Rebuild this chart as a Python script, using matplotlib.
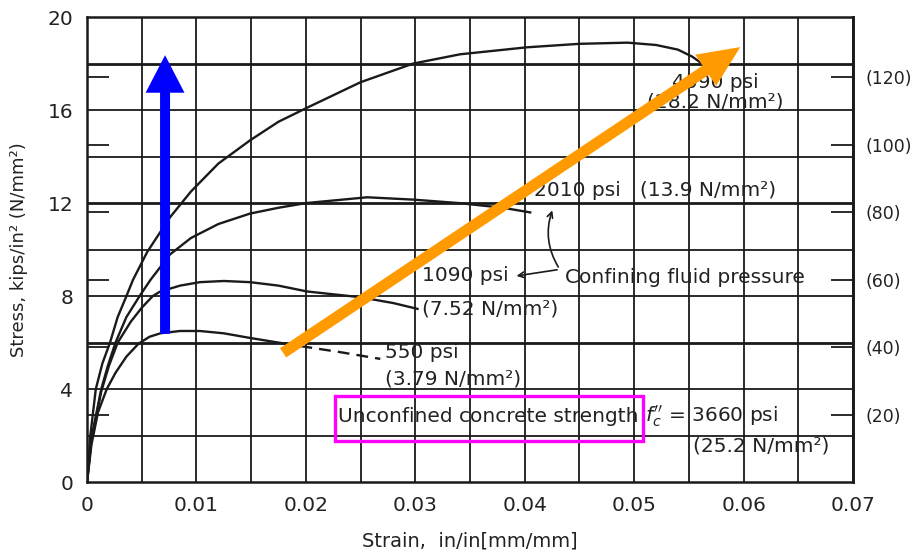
import matplotlib.pyplot as plt
import numpy as np

plt.rcParams['font.family'] = ['DejaVu Sans']

# stress-strain curves (strain in/in, stress ksi)
strain_4090 = [0, 0.0003, 0.0008, 0.0014, 0.0021, 0.0028, 0.0036, 0.0042, 0.0055, 0.0076, 0.0095, 0.0120,
               0.0149, 0.0175, 0.0201, 0.0250, 0.0298, 0.0341, 0.0402, 0.0450, 0.0494, 0.0520, 0.0540, 0.0553, 0.0562]
stress_4090 = [0, 2.0, 4.0, 5.1, 6.0, 7.1, 8.0, 8.7, 9.9, 11.4, 12.5, 13.7,
               14.7, 15.5, 16.1, 17.2, 18.0, 18.4, 18.7, 18.85, 18.9, 18.8, 18.6, 18.3, 18.0]

strain_2010 = [0, 0.0004, 0.0013, 0.0019, 0.0026, 0.0036, 0.0048, 0.0058, 0.0076, 0.0095, 0.0120,
               0.0149, 0.0175, 0.0200, 0.0256, 0.0298, 0.0340, 0.0380, 0.0405]
stress_2010 = [0, 1.9, 4.0, 5.0, 6.0, 7.1, 8.0, 8.7, 9.8, 10.5, 11.1,
               11.55, 11.8, 12.0, 12.25, 12.15, 12.0, 11.8, 11.6]

strain_1090 = [0, 0.0004, 0.0013, 0.0020, 0.0028, 0.0040, 0.0050, 0.0060, 0.0067, 0.0085, 0.0103,
               0.0125, 0.0149, 0.0175, 0.0201, 0.0250, 0.0280, 0.0302]
stress_1090 = [0, 1.8, 3.9, 5.0, 6.0, 6.9, 7.5, 8.0, 8.2, 8.45, 8.6,
               8.65, 8.6, 8.45, 8.2, 7.95, 7.7, 7.45]

strain_550 = [0, 0.0004, 0.0010, 0.0018, 0.0026, 0.0036, 0.0047, 0.0057, 0.0067, 0.0085, 0.0103,
              0.0125, 0.0149, 0.0175, 0.0195]
stress_550 = [0, 1.6, 3.0, 4.0, 4.7, 5.4, 5.95, 6.25, 6.4, 6.5, 6.5,
              6.4, 6.2, 6.0, 5.85]
strain_550_dash = [0.0195, 0.0230, 0.0268]
stress_550_dash = [5.85, 5.6, 5.3]

x_ticks = [0, 0.01, 0.02, 0.03, 0.04, 0.05, 0.06, 0.07]
x_labels = ['0', '0.01', '0.02', '0.03', '0.04', '0.05', '0.06', '0.07']
y_ticks = [0, 4, 8, 12, 16, 20]
mpa_ticks = [20, 40, 60, 80, 100, 120]
KSI_TO_MPA = 6.895

x_grid = np.arange(0, 0.0701, 0.005)
y_grid = [2, 4, 8, 10, 14, 16]
y_grid_heavy = [6, 12, 18]

fig = plt.figure(figsize=(9.21, 5.51), dpi=100)
ax = fig.add_axes([0.0945, 0.125, 0.8317, 0.844])
ax.set_xlim(0, 0.07)
ax.set_ylim(0, 20)

ink = '#1a1a1a'
ax.vlines(x_grid, 0, 20, color=ink, lw=1.3, zorder=1)
ax.hlines(y_grid, 0, 0.07, color=ink, lw=1.3, zorder=1)
ax.hlines(y_grid_heavy, 0, 0.07, color=ink, lw=2.0, zorder=1)

ax.plot(strain_4090, stress_4090, color=ink, lw=1.7, zorder=3)
ax.plot(strain_2010, stress_2010, color=ink, lw=1.7, zorder=3)
ax.plot(strain_1090, stress_1090, color=ink, lw=1.7, zorder=3)
ax.plot(strain_550, stress_550, color=ink, lw=1.7, zorder=3)
ax.plot(strain_550_dash, stress_550_dash, color=ink, lw=1.7, ls=(0, (5, 3)), zorder=3)

for s in ax.spines.values():
    s.set_linewidth(1.8)
    s.set_color(ink)

ax.set_xticks(x_ticks)
ax.set_xticklabels(x_labels)
ax.set_yticks(y_ticks)
ax.tick_params(axis='both', which='major', length=0, labelsize=14.5, colors='#222')
ax.tick_params(axis='x', pad=10)
ax.tick_params(axis='y', pad=10)
ax.set_yticks([m / KSI_TO_MPA for m in mpa_ticks], minor=True)
ax.tick_params(axis='y', which='minor', direction='in', length=16, width=1.3, color=ink)

sec = ax.secondary_yaxis('right', functions=(lambda k: k * KSI_TO_MPA, lambda m: m / KSI_TO_MPA))
sec.set_yticks(mpa_ticks)
sec.set_yticklabels(['(%d)' % m for m in mpa_ticks])
sec.tick_params(direction='in', length=16, width=1.3, color=ink, labelsize=12.5, pad=9, labelcolor='#222')
sec.spines['right'].set_linewidth(1.8)

ax.set_xlabel('Strain,  in/in[mm/mm]', fontsize=14, color='#222', labelpad=12)
ax.set_ylabel('Stress, kips/in² (N/mm²)', fontsize=13, color='#222', labelpad=14)

fs = 14.5
tc = '#222'
ax.text(0.0535, 17.2, '4090 psi', fontsize=fs, color=tc, va='center', zorder=4)
ax.text(0.0512, 16.34, '(28.2 N/mm²)', fontsize=fs, color=tc, va='center', zorder=4)
ax.text(0.0408, 12.54, '2010 psi   (13.9 N/mm²)', fontsize=fs, color=tc, va='center', zorder=4)
ax.text(0.0306, 8.88, '1090 psi', fontsize=fs, color=tc, va='center', zorder=4)
ax.text(0.0306, 7.46, '(7.52 N/mm²)', fontsize=fs, color=tc, va='center', zorder=4)
ax.text(0.0272, 5.56, '550 psi', fontsize=fs, color=tc, va='center', zorder=4)
ax.text(0.0272, 4.44, '(3.79 N/mm²)', fontsize=fs, color=tc, va='center', zorder=4)
ax.text(0.0437, 8.79, 'Confining fluid pressure', fontsize=fs, color=tc, va='center', zorder=4)
ax.text(0.0229, 2.84, 'Unconfined concrete strength', fontsize=fs, color=tc, va='center', zorder=4)
ax.text(0.0510, 2.84, r"$f_c''$ = 3660 psi", fontsize=fs, color=tc, va='center', zorder=4)
ax.text(0.0554, 1.55, '(25.2 N/mm²)', fontsize=fs, color=tc, va='center', zorder=4)

# leaders from "Confining fluid pressure"
ax.annotate('', xy=(0.0426, 11.8), xytext=(0.0432, 9.15),
            arrowprops=dict(arrowstyle='->', color=ink, lw=1.2, connectionstyle='arc3,rad=-0.25'), zorder=4)
ax.annotate('', xy=(0.0390, 8.85), xytext=(0.0432, 9.15),
            arrowprops=dict(arrowstyle='->', color=ink, lw=1.2), zorder=4)

# magenta highlight box
ax.add_patch(plt.Rectangle((0.02267, 1.77), 0.02813, 1.94, fill=False, edgecolor='#ff00ff', lw=2.4, zorder=5))

# overlaid arrows
ax.annotate('', xy=(0.00713, 18.36), xytext=(0.00713, 6.38),
            arrowprops=dict(width=7.2, headwidth=28, headlength=27, shrink=0, color='#0000ff', lw=0), zorder=6)
ax.annotate('', xy=(0.0597, 18.71), xytext=(0.01792, 5.56),
            arrowprops=dict(width=8, headwidth=27, headlength=30, shrink=0, color='#ff9a00', lw=0), zorder=6)

plt.savefig('out.png', dpi=100)
